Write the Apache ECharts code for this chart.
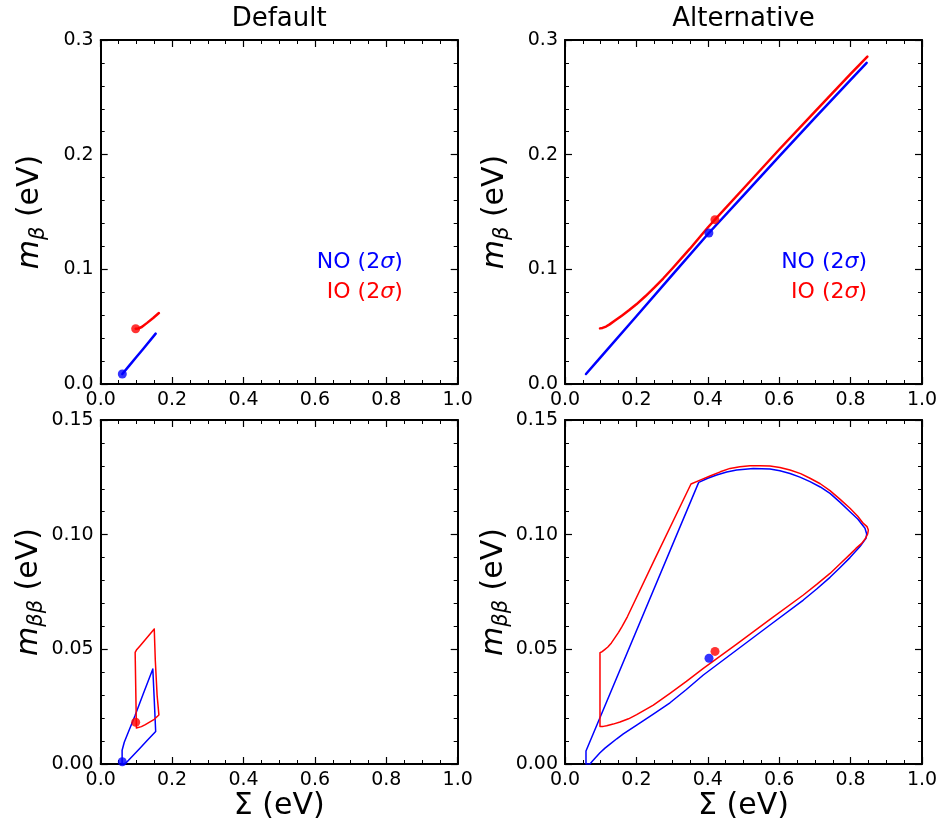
<!DOCTYPE html>
<html><head><meta charset="utf-8">
<script src="https://cdn.jsdelivr.net/npm/echarts@6/dist/echarts.min.js"></script>
<style>html,body{margin:0;padding:0;background:#fff}#c{width:941px;height:825px}</style>
</head><body><div id="c"></div><script>
// ---------------- data ----------------
const panelTitles = ['Default', 'Alternative'];
const xTickLabels = ['0.0', '0.2', '0.4', '0.6', '0.8', '1.0'];
const mbTickLabels = ['0.0', '0.1', '0.2', '0.3'];
const mbbTickLabels = ['0.00', '0.05', '0.10', '0.15'];
const legendLabels = ['NO', 'IO'];

// Default, m_beta vs Sigma
const defMbNO = [[0.0605,0.0087],[0.08,0.016],[0.10,0.0236],[0.12,0.031],[0.154,0.0439]];
const defMbIO = [[0.098,0.0482],[0.105,0.0484],[0.115,0.0497],[0.130,0.0533],[0.147,0.0576],[0.163,0.0619]];
const defMbDotNO = [0.0605,0.0087];
const defMbDotIO = [0.098,0.0482];

// Alternative, m_beta vs Sigma
const altMbNO = [[0.0588,0.0087],[0.10,0.0234],[0.20,0.0591],[0.30,0.0950],[0.403,0.1317],[0.50,0.1645],[0.60,0.1985],[0.70,0.2320],[0.80,0.2653],[0.845,0.2800]];
const altMbIO = [[0.098,0.0485],[0.105,0.0489],[0.115,0.0501],[0.125,0.0520],[0.14,0.0553],[0.16,0.0598],[0.18,0.0645],[0.20,0.0695],[0.225,0.0765],[0.25,0.0840],[0.275,0.0920],[0.30,0.1005],[0.35,0.1180],[0.40,0.1365],[0.42,0.1433],[0.50,0.1705],[0.60,0.2045],[0.70,0.2375],[0.80,0.2705],[0.847,0.2855]];
const altMbDotNO = [0.403,0.1317];
const altMbDotIO = [0.420,0.1433];

// Default, m_betabeta vs Sigma (closed contours)
const defMbbNO = [[0.060,0.000],[0.060,0.006],[0.066,0.0095],[0.075,0.013],[0.096,0.021],[0.119,0.0305],[0.146,0.0414],[0.150,0.028],[0.154,0.0142],[0.130,0.0102],[0.110,0.0069],[0.090,0.0036],[0.070,0.0003],[0.060,0.000]];
const defMbbIO = [[0.0965,0.0487],[0.100,0.0497],[0.110,0.0515],[0.130,0.0552],[0.150,0.0589],[0.153,0.045],[0.158,0.030],[0.163,0.0214],[0.150,0.0195],[0.138,0.0184],[0.125,0.0172],[0.114,0.0163],[0.100,0.0157],[0.0965,0.0158],[0.0965,0.0487]];
const defMbbDotNO = [0.0605,0.001];
const defMbbDotIO = [0.098,0.0182];

// Alternative, m_betabeta vs Sigma (closed contours)
const altMbbNO = [[0.0700,0.0],[0.0770,0.0013],[0.0840,0.0025],[0.0980,0.0049],[0.1120,0.0069],[0.1261,0.0087],[0.1450,0.0110],[0.1634,0.0131],[0.2008,0.0170],[0.2474,0.0218],[0.2941,0.0267],[0.3400,0.0325],[0.3875,0.0388],[0.4809,0.0497],[0.5742,0.0606],[0.6676,0.0715],[0.7050,0.0763],[0.7423,0.0814],[0.7700,0.0856],[0.7983,0.0900],[0.8263,0.0948],[0.8431,0.0984],[0.8451,0.1003],[0.8403,0.1028],[0.8200,0.1068],[0.7983,0.1100],[0.7700,0.1142],[0.7423,0.1180],[0.7150,0.1208],[0.6863,0.1231],[0.6580,0.1251],[0.6303,0.1267],[0.6020,0.1279],[0.5742,0.1286],[0.5275,0.1289],[0.4809,0.1282],[0.4530,0.1273],[0.4249,0.1260],[0.4000,0.1246],[0.3745,0.1228],[0.0588,0.0057],[0.0588,0.0],[0.0700,0.0]];
const altMbbIO = [[0.098,0.0485],[0.098,0.0163],[0.1070,0.0164],[0.1167,0.0167],[0.1350,0.0174],[0.1541,0.0183],[0.1780,0.0197],[0.2008,0.0215],[0.2474,0.0257],[0.2941,0.0308],[0.3400,0.0360],[0.3875,0.0417],[0.4809,0.0523],[0.5742,0.0631],[0.6676,0.0737],[0.7050,0.0783],[0.7423,0.0831],[0.7700,0.0872],[0.7983,0.0914],[0.8150,0.0940],[0.8310,0.0962],[0.8410,0.0982],[0.8478,0.1003],[0.8497,0.1020],[0.8460,0.1035],[0.8357,0.1049],[0.8200,0.1080],[0.7983,0.1115],[0.7700,0.1155],[0.7423,0.1192],[0.7150,0.1222],[0.6863,0.1246],[0.6600,0.1266],[0.6303,0.1282],[0.6020,0.1293],[0.5742,0.1299],[0.5450,0.1301],[0.5182,0.1300],[0.4900,0.1296],[0.4622,0.1289],[0.4350,0.1274],[0.4062,0.1256],[0.3800,0.1239],[0.3529,0.1221],[0.2474,0.0880],[0.1750,0.0643],[0.1600,0.0600],[0.1500,0.0574],[0.1400,0.0551],[0.1300,0.0528],[0.1200,0.0510],[0.1120,0.0500],[0.1040,0.0490],[0.098,0.0485]];
const altMbbDotNO = [0.4034,0.0461];
const altMbbDotIO = [0.4202,0.0491];

// ---------------- layout/style ----------------
const FONT = 'DejaVu Sans';
const BLUE = '#0000ff', RED = '#ff0000';
const PL = [100.7, 565], PT = [40, 420], PW = 357, PH = 344;

const grids = [];
const xAxes = [];
const yAxes = [];
const series = [];

function lblFmt(labels, interval) {
  return v => labels[Math.round(v / interval)] ?? '';
}

function addPanel(col, row, lines, dots, lw) {
  const gi = grids.length;
  grids.push({left: PL[col], top: PT[row], width: PW, height: PH, containLabel: false});
  const yMax = row === 0 ? 0.3 : 0.15;
  const yInt = row === 0 ? 0.1 : 0.05;
  const yMinor = 5;
  const yLabels = row === 0 ? mbTickLabels : mbbTickLabels;
  const common = {
    axisLine: {show: true, onZero: false, lineStyle: {color: '#000', width: 2}},
    axisTick: {show: true, inside: true, length: 7, lineStyle: {color: '#000', width: 1.2}},
    minorTick: {show: true, length: 4, lineStyle: {color: '#000', width: 1}},
    splitLine: {show: false},
    minorSplitLine: {show: false}
  };
  const xb = Object.assign({}, common, {
    type: 'value', gridIndex: gi, position: 'bottom', min: 0, max: 1, interval: 0.2,
    minorTick: Object.assign({}, common.minorTick, {splitNumber: 4}),
    axisLabel: {show: true, fontFamily: FONT, fontSize: 19, color: '#000', margin: 7,
      formatter: lblFmt(xTickLabels, 0.2)}
  });
  if (row === 1) {
    xb.name = 'Σ (eV)';
    xb.nameLocation = 'middle';
    xb.nameGap = 26;
    xb.nameTextStyle = {fontFamily: FONT, fontSize: 30, color: '#000'};
  }
  const xt = Object.assign({}, common, {
    type: 'value', gridIndex: gi, position: 'top', min: 0, max: 1, interval: 0.2,
    minorTick: Object.assign({}, common.minorTick, {splitNumber: 4}),
    axisLabel: {show: false}
  });
  const yl = Object.assign({}, common, {
    type: 'value', gridIndex: gi, position: 'left', min: 0, max: yMax, interval: yInt,
    minorTick: Object.assign({}, common.minorTick, {splitNumber: yMinor}),
    axisLabel: {show: true, fontFamily: FONT, fontSize: 19, color: '#000', margin: 7,
      formatter: lblFmt(yLabels, yInt)},
    name: row === 0 ? '{m|m}{s|β}{t| (eV)}' : '{m|m}{s|ββ}{t| (eV)}',
    nameLocation: 'middle',
    nameGap: 52,
    nameTextStyle: {
      color: '#000',
      rich: {
        m: {fontFamily: FONT, fontSize: 30, fontStyle: 'italic', color: '#000', lineHeight: 36},
        s: {fontFamily: FONT, fontSize: 21, fontStyle: 'italic', color: '#000', lineHeight: 18, verticalAlign: 'bottom'},
        t: {fontFamily: FONT, fontSize: 30, color: '#000', lineHeight: 36}
      }
    }
  });
  const yr = Object.assign({}, common, {
    type: 'value', gridIndex: gi, position: 'right', min: 0, max: yMax, interval: yInt,
    minorTick: Object.assign({}, common.minorTick, {splitNumber: yMinor}),
    axisLabel: {show: false}
  });
  const xi = xAxes.length, yi = yAxes.length;
  xAxes.push(xb, xt);
  yAxes.push(yl, yr);
  lines.forEach(([d, c]) => series.push({
    type: 'line', xAxisIndex: xi, yAxisIndex: yi, data: d, showSymbol: false, symbol: 'none',
    lineStyle: {color: c, width: lw, join: 'round', cap: 'round'}, itemStyle: {color: c},
    animation: false, silent: true, z: 3
  }));
  dots.forEach(([p, c]) => series.push({
    type: 'scatter', xAxisIndex: xi, yAxisIndex: yi, data: [p], symbolSize: 9,
    itemStyle: {color: c}, animation: false, silent: true, clip: false, z: 4
  }));
}

addPanel(0, 0, [[defMbNO, BLUE], [defMbIO, RED]], [[defMbDotNO, BLUE], [defMbDotIO, RED]], 2.5);
addPanel(1, 0, [[altMbNO, BLUE], [altMbIO, RED]], [[altMbDotNO, BLUE], [altMbDotIO, RED]], 2.5);
addPanel(0, 1, [[defMbbNO, BLUE], [defMbbIO, RED]], [[defMbbDotNO, BLUE], [defMbbDotIO, RED]], 1.5);
addPanel(1, 1, [[altMbbNO, BLUE], [altMbbIO, RED]], [[altMbbDotNO, BLUE], [altMbbDotIO, RED]], 1.5);

const graphics = [];
panelTitles.forEach((t, i) => graphics.push({
  type: 'text', x: PL[i] + PW / 2, y: 19,
  style: {text: t, fontFamily: FONT, fontSize: 26, fill: '#000', align: 'center', verticalAlign: 'middle'}
}));
[0, 1].forEach(i => {
  const xr = PL[i] + 0.846 * PW;
  [[legendLabels[0], BLUE, 262], [legendLabels[1], RED, 292]].forEach(([lab, col, yy]) => {
    graphics.push({
      type: 'text', x: xr, y: yy,
      style: {
        text: '{a|' + lab + ' (2}{b|σ}{a|)}',
        align: 'right', verticalAlign: 'middle',
        rich: {
          a: {fontFamily: FONT, fontSize: 22, fill: col},
          b: {fontFamily: FONT, fontSize: 22, fontStyle: 'italic', fill: col}
        }
      }
    });
  });
});

const chart = echarts.init(document.getElementById('c'), null, {renderer: 'canvas'});
chart.setOption({
  animation: false,
  backgroundColor: '#fff',
  grid: grids,
  xAxis: xAxes,
  yAxis: yAxes,
  series: series,
  graphic: graphics
});
</script></body></html>
